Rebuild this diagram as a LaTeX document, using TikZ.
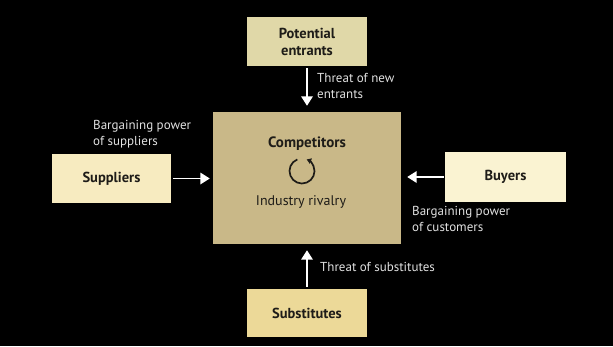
\documentclass[tikz,border=0pt]{standalone}
\usepackage{fontspec}
\setmainfont{PT Sans}
\usetikzlibrary{arrows.meta}
\definecolor{peC}{RGB}{224,216,168}
\definecolor{compC}{RGB}{201,184,136}
\definecolor{supC}{RGB}{247,235,192}
\definecolor{buyC}{RGB}{250,243,210}
\definecolor{subC}{RGB}{236,217,152}
\definecolor{boxText}{RGB}{30,28,24}
\definecolor{lblText}{RGB}{225,225,225}
\tikzset{
  fbox/.style={rectangle, draw=none, inner sep=0pt, align=center, text=boxText,
    font=\fontsize{14.5}{17}\selectfont\bfseries},
  flow/.style={draw=white, line width=1.8pt, -{Triangle[length=9.5pt,width=11.5pt]}},
  lbl/.style={anchor=north west, inner sep=0pt, align=left, text=lblText,
    font=\fontsize{13}{16}\selectfont}
}
\begin{document}
\begin{tikzpicture}[x=1pt,y=1pt]
\fill[black] (0,0) rectangle (613,-346);
\useasboundingbox (0,0) rectangle (613,-346);
% boxes
\node[fbox, fill=peC, minimum width=120pt, minimum height=49pt] (pe) at (307,-41.5) {Potential\\entrants};
\node[fbox, fill=compC, minimum width=188pt, minimum height=132pt] (comp) at (307,-178) {};
\node[fbox, fill=supC, minimum width=119pt, minimum height=49pt] (sup) at (111.5,-178.5) {Suppliers};
\node[fbox, fill=buyC, minimum width=121pt, minimum height=50pt] (buy) at (505.5,-177) {Buyers};
\node[fbox, fill=subC, minimum width=120pt, minimum height=48pt] (subs) at (307,-313) {Substitutes};
% inside competitors
\node[font=\fontsize{15}{17}\selectfont\bfseries, text=boxText, inner sep=0pt] (ctitle) at (307,-144) {Competitors};
\coordinate (rc) at (302,-171);
\draw[line width=1.7pt, draw=boxText, -{Triangle[length=4.5pt,width=5.5pt]}] (rc) ++(112:12.5) arc[start angle=112, end angle=428, radius=12.5];
\node[font=\fontsize{14}{16}\selectfont, text=boxText, inner sep=0pt] (riv) at (301,-202) {Industry rivalry};
% arrows
\draw[flow, shorten <=2pt, shorten >=6pt] (pe.south) -- (comp.north);
\draw[flow, shorten <=2pt, shorten >=3pt] (sup.east) -- (sup.east -| comp.west);
\draw[flow, shorten <=1pt, shorten >=6pt] (buy.west) -- (buy.west -| comp.east);
\draw[flow, shorten <=2pt, shorten >=6pt] (subs.north) -- (comp.south);
% labels
\node[lbl] (l1) at (317,-73) {Threat of new\\entrants};
\node[lbl] (l2) at (93,-120) {Bargaining power\\of suppliers};
\node[lbl] (l3) at (412,-206) {Bargaining power\\of customers};
\node[lbl] (l4) at (320,-262) {Threat of substitutes};
\end{tikzpicture}
\end{document}
